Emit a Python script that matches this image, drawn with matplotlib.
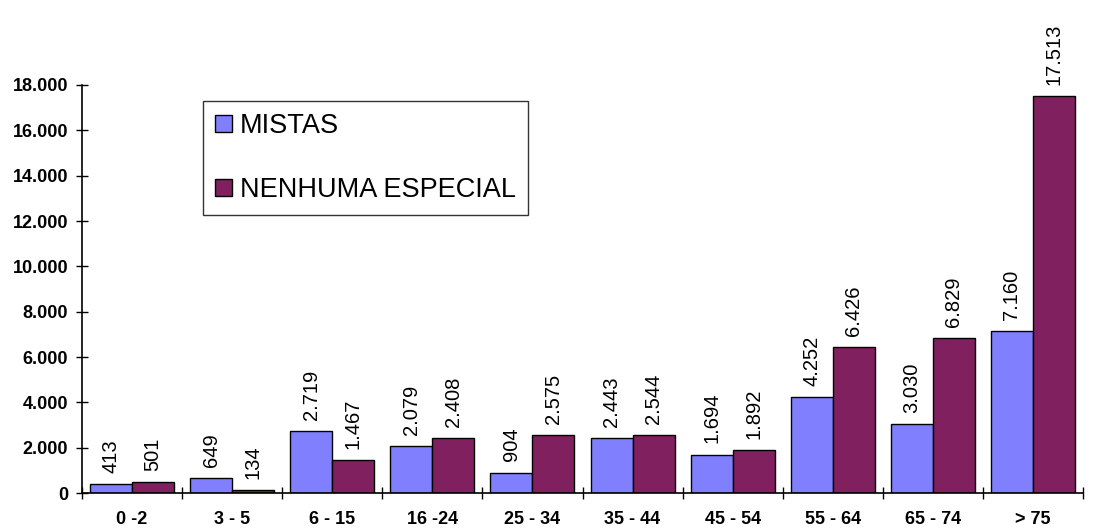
import matplotlib
matplotlib.use("Agg")
import matplotlib.pyplot as plt
import numpy as np

# faixas etarias e totais por tipo de necessidade
faixas = ["0 -2", "3 - 5", "6 - 15", "16 -24", "25 - 34", "35 - 44",
          "45 - 54", "55 - 64", "65 - 74", "> 75"]
mistas = [413, 649, 2719, 2079, 904, 2443, 1694, 4252, 3030, 7160]
nenhuma = [501, 134, 1467, 2408, 2575, 2544, 1892, 6426, 6829, 17513]
yticks = [0, 2000, 4000, 6000, 8000, 10000, 12000, 14000, 16000, 18000]

plt.rcParams["font.family"] = ["Liberation Sans", "DejaVu Sans"]

def fmt(v):
    return f"{v:,}".replace(",", ".")

fig = plt.figure(figsize=(11, 5.31), dpi=100)
ax = fig.add_axes([82/1100, 1 - 493/531, 1001/1100, 408/531])

x = np.arange(len(faixas))
w = 0.42
b1 = ax.bar(x - w/2, mistas, w, color="#8080FF", edgecolor="black", linewidth=1, label="MISTAS")
b2 = ax.bar(x + w/2, nenhuma, w, color="#80205E", edgecolor="black", linewidth=1, label="NENHUMA ESPECIAL")

for bars, vals in ((b1, mistas), (b2, nenhuma)):
    for r, v in zip(bars, vals):
        ax.annotate(fmt(v), (r.get_x() + r.get_width()/2, v), xytext=(0, 8),
                    textcoords="offset points", rotation=90, ha="center", va="bottom",
                    fontsize=14.5, annotation_clip=False)

ax.set_xlim(-0.5, len(faixas) - 0.5)
ax.set_ylim(0, 18000)
ax.set_yticks(yticks)
ax.set_yticklabels([fmt(t) for t in yticks], fontweight="bold", fontsize=13)
ax.set_xticks(np.arange(len(faixas) + 1) - 0.5)
ax.set_xticklabels([])
ax.set_xticks(x, minor=True)
ax.set_xticklabels(faixas, minor=True, fontweight="bold", fontsize=13)
ax.tick_params(axis="x", which="minor", length=0, pad=13)
ax.tick_params(axis="x", which="major", direction="inout", length=8, width=1)
ax.tick_params(axis="y", direction="inout", length=8, width=1, pad=6)

for s in ("top", "right"):
    ax.spines[s].set_visible(False)
for s in ("left", "bottom"):
    ax.spines[s].set_linewidth(1.2)

leg = ax.legend(loc="upper left", bbox_to_anchor=(0.121, 0.961), borderaxespad=0,
                fontsize=19.5, frameon=True, fancybox=False, handlelength=0.63,
                handleheight=0.63, handletextpad=0.27, labelspacing=1.4, borderpad=0.45)
leg.get_frame().set_edgecolor("black")
leg.get_frame().set_linewidth(1)

fig.savefig("out.png", dpi=100)
